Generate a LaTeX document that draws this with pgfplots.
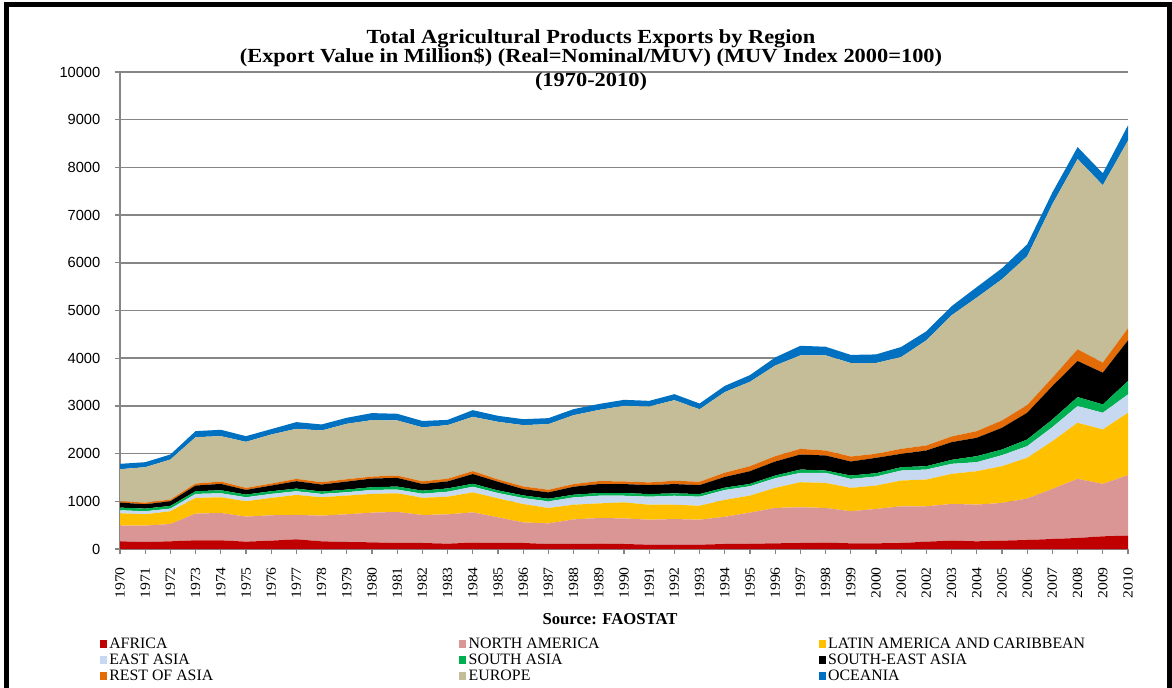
\documentclass[border=0pt]{standalone}
\usepackage{fontspec}
\setmainfont{Liberation Serif}
\newfontfamily\titlefont[FakeStretch=1.12]{Liberation Serif}
\newfontfamily\ticksans{Liberation Sans}
\usepackage{pgfplots}
\usepackage{pgfplotstable}
\pgfplotsset{compat=1.18}
\definecolor{cAF}{RGB}{192,0,0}
\definecolor{cNA}{RGB}{217,150,148}
\definecolor{cLA}{RGB}{255,192,0}
\definecolor{cEA}{RGB}{198,217,241}
\definecolor{cSA}{RGB}{0,176,80}
\definecolor{cSEA}{RGB}{0,0,0}
\definecolor{cRoA}{RGB}{227,108,9}
\definecolor{cEU}{RGB}{196,189,151}
\definecolor{cOC}{RGB}{0,112,192}
\definecolor{axisgray}{RGB}{134,134,134}

\pgfplotstableread{
year af na la ea sa sea roa eu oc
1970 161 329 259 63 56 105 28 672 112
1971 147 343 238 63 56 91 35 742 105
1972 161 364 266 56 56 98 35 840 105
1973 182 560 329 84 56 119 42 973 126
1974 182 574 329 84 63 133 49 952 133
1975 154 525 322 84 56 98 42 966 119
1976 175 532 364 84 56 119 42 1029 112
1977 203 511 420 77 56 154 49 1050 140
1978 161 539 385 70 49 147 49 1085 126
1979 147 581 392 70 56 168 49 1162 126
1980 140 623 392 84 56 182 42 1183 147
1981 126 651 392 77 63 182 49 1155 140
1982 126 587 360 87 63 140 56 1132 133
1983 112 614 370 105 69 147 56 1124 110
1984 133 635 419 118 63 203 62 1138 140
1985 126 537 398 112 55 182 49 1207 126
1986 126 432 384 126 56 132 56 1285 125
1987 105 432 322 139 56 133 55 1376 125
1988 105 516 307 154 56 167 56 1445 126
1989 112 537 307 161 56 188 63 1491 125
1990 105 537 335 140 56 188 56 1584 126
1991 91 523 314 168 56 188 56 1591 119
1992 91 537 300 189 49 195 70 1689 126
1993 91 523 293 189 56 188 70 1520 120
1994 105 570 355 207 49 224 90 1690 130
1995 110 653 357 196 49 266 105 1770 140
1996 119 742 420 203 56 294 112 1900 170
1997 126 749 525 196 70 315 119 1960 200
1998 133 728 525 210 49 315 105 1995 180
1999 119 672 490 189 70 294 105 1960 170
2000 119 721 490 189 70 322 84 1904 180
2001 126 770 539 210 70 280 105 1925 210
2002 154 742 560 210 70 329 105 2205 190
2003 175 770 630 210 84 371 119 2541 190
2004 161 770 700 189 126 385 140 2800 220
2005 175 791 770 231 119 455 154 2961 230
2006 189 868 854 245 140 560 161 3120 250
2007 210 1050 1001 294 161 700 175 3640 245
2008 231 1239 1176 350 189 756 245 3990 250
2009 266 1099 1141 350 175 665 210 3720 250
2010 280 1267 1309 385 280 854 252 3934 320
}\datatable

\begin{document}
\begin{tikzpicture}[x=0.75pt,y=0.75pt]
\useasboundingbox (0,0) rectangle (1172,687);
\draw[line width=3.75pt] (6.5,-10) -- (6.5,682.5) -- (1169.5,682.5) -- (1169.5,-10);
\begin{axis}[
  at={(90pt,103.5pt)}, anchor=south west,
  scale only axis, width=756pt, height=357.75pt,
  xmin=1970, xmax=2010, ymin=0, ymax=10000,
  stack plots=y,
  axis lines*=left,
  axis line style={draw=axisgray, line width=1.4pt},
  ymajorgrids, grid style={draw=axisgray, line width=1.1pt},
  xtick={1970,1971,...,2010}, ytick={0,1000,...,10000},
  tick style={draw=axisgray, line width=1pt},
  major tick length=3.75pt, tick align=outside,
  /pgf/number format/1000 sep={},
  /pgf/number format/assume math mode=true,
  scaled y ticks=false,
  yticklabel style={font=\ticksans\fontsize{11}{13}\selectfont},
  xticklabel style={font=\titlefont\fontsize{10.5}{12}\selectfont, rotate=90, anchor=east},
  yticklabel shift=7.5pt,
  xticklabel shift=6.4pt,
  legend columns=3,
  legend cell align=left,
  legend image code/.code={\fill[#1] (0pt,-3pt) rectangle (5.25pt,3pt); \path (7.1pt,0pt);},
  legend style={draw=none, fill=none, at={(-0.0203,-0.185)}, anchor=north west,
    font=\fontsize{11.9}{13}\selectfont, inner sep=0pt, row sep=2.7pt,
    nodes={inner sep=0pt}},
]
\addplot[fill=cAF, draw=none] table[x=year,y=af]{\datatable} \closedcycle;
\addlegendentry{\makebox[262.5pt][l]{AFRICA}}
\addplot[fill=cNA, draw=none] table[x=year,y=na]{\datatable} \closedcycle;
\addlegendentry{\makebox[262.5pt][l]{NORTH AMERICA}}
\addplot[fill=cLA, draw=none] table[x=year,y=la]{\datatable} \closedcycle;
\addlegendentry{LATIN AMERICA AND CARIBBEAN}
\addplot[fill=cEA, draw=none] table[x=year,y=ea]{\datatable} \closedcycle;
\addlegendentry{\makebox[262.5pt][l]{EAST ASIA}}
\addplot[fill=cSA, draw=none] table[x=year,y=sa]{\datatable} \closedcycle;
\addlegendentry{\makebox[262.5pt][l]{SOUTH ASIA}}
\addplot[fill=cSEA, draw=none] table[x=year,y=sea]{\datatable} \closedcycle;
\addlegendentry{SOUTH-EAST ASIA}
\addplot[fill=cRoA, draw=none] table[x=year,y=roa]{\datatable} \closedcycle;
\addlegendentry{\makebox[262.5pt][l]{REST OF ASIA}}
\addplot[fill=cEU, draw=none] table[x=year,y=eu]{\datatable} \closedcycle;
\addlegendentry{\makebox[262.5pt][l]{EUROPE}}
\addplot[fill=cOC, draw=none] table[x=year,y=oc]{\datatable} \closedcycle;
\addlegendentry{OCEANIA}
\end{axis}
\node[anchor=base, font=\titlefont\bfseries\fontsize{15}{17}\selectfont] at (591,643) {Total Agricultural Products Exports by Region};
\node[anchor=base, font=\titlefont\bfseries\fontsize{15}{17}\selectfont] at (591,624) {(Export Value in Million\$) (Real=Nominal/MUV) (MUV Index 2000=100)};
\node[anchor=base, font=\titlefont\bfseries\fontsize{15}{17}\selectfont] at (591,600) {(1970-2010)};
\node[anchor=base, font=\bfseries\fontsize{12.5}{15}\selectfont] at (610,63) {Source: FAOSTAT};
\end{tikzpicture}
\end{document}
